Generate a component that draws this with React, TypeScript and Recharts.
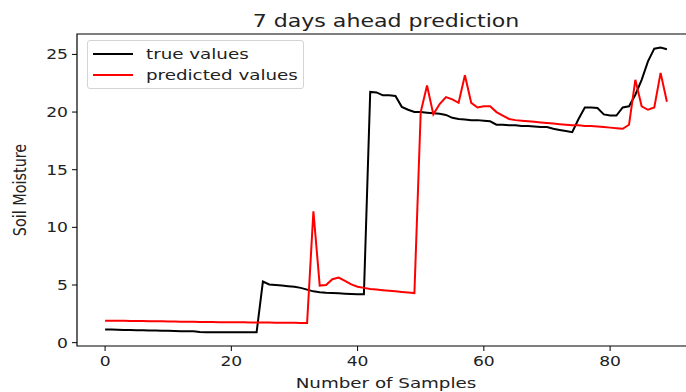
import React from 'react';
import { LineChart, Line, XAxis, YAxis, ReferenceArea } from 'recharts';

// sample index 0..89
const trueValues = [
  1.15, 1.15, 1.12, 1.1, 1.1, 1.08, 1.08, 1.06, 1.05, 1.04,
  1.03, 1.02, 1.0, 1.0, 0.98, 0.92, 0.9, 0.9, 0.9, 0.9,
  0.9, 0.9, 0.9, 0.9, 0.9, 5.3, 5.05, 5.0, 4.95, 4.9,
  4.85, 4.75, 4.6, 4.45, 4.38, 4.33, 4.3, 4.28, 4.25, 4.22,
  4.2, 4.2, 21.75, 21.7, 21.45, 21.45, 21.4, 20.45, 20.2, 20.0,
  20.0, 19.95, 19.9, 19.85, 19.75, 19.5, 19.4, 19.35, 19.3, 19.3,
  19.25, 19.2, 18.9, 18.9, 18.85, 18.85, 18.8, 18.8, 18.75, 18.7,
  18.7, 18.55, 18.45, 18.35, 18.25, 19.4, 20.4, 20.4, 20.35, 19.8,
  19.7, 19.7, 20.4, 20.5, 21.5, 22.8, 24.4, 25.5, 25.6, 25.45,
];

const predictedValues = [
  1.9, 1.9, 1.9, 1.89, 1.88, 1.88, 1.87, 1.86, 1.86, 1.85,
  1.84, 1.83, 1.82, 1.82, 1.81, 1.8, 1.8, 1.79, 1.78, 1.78,
  1.77, 1.76, 1.76, 1.75, 1.75, 1.74, 1.74, 1.73, 1.73, 1.72,
  1.72, 1.71, 1.71, 11.4, 4.95, 5.0, 5.5, 5.65, 5.35, 5.05,
  4.85, 4.75, 4.65, 4.6, 4.55, 4.5, 4.45, 4.4, 4.35, 4.3,
  20.0, 22.3, 19.8, 20.7, 21.3, 21.1, 20.8, 23.2, 20.8, 20.4,
  20.5, 20.5, 20.0, 19.7, 19.4, 19.3, 19.25, 19.2, 19.15, 19.1,
  19.05, 19.0, 18.95, 18.9, 18.85, 18.85, 18.8, 18.8, 18.75, 18.7,
  18.65, 18.6, 18.55, 18.9, 22.8, 20.5, 20.2, 20.4, 23.4, 20.9,
];

const xTicks = [0, 20, 40, 60, 80];
const yTicks = [0, 5, 10, 15, 20, 25];
const seriesNames = ['true values', 'predicted values'];
const seriesColors = ['#000', '#f00'];

const X_DOMAIN = [-4.45, 93.45];
const Y_DOMAIN = [-0.29, 26.77];

// the reference is stretched sideways, so text is too
const SX = 1.27;
const FONT = 'DejaVu Sans, sans-serif';
const INK = '#222';

const StretchText = ({ x, y, size, anchor = 'start', rotate = 0, children }: any) => (
  <text
    transform={`translate(${x},${y}) scale(${SX},1) rotate(${rotate})`}
    textAnchor={anchor}
    fontSize={size}
    fontFamily={FONT}
    fill={INK}
  >
    {children}
  </text>
);

const XTick = (props: any) => (
  <StretchText x={props.x} y={props.y + 13} size={13.5} anchor="middle">
    {props.payload.value}
  </StretchText>
);

const YTick = (props: any) => (
  <StretchText x={props.x} y={props.y + 5} size={13.5} anchor="end">
    {props.payload.value}
  </StretchText>
);

// matplotlib style legend box, upper left
const LegendBox = () => (
  <div
    style={{
      position: 'absolute',
      left: 87,
      top: 40,
      width: 215,
      height: 47,
      border: '1px solid #d4d4d4',
      borderRadius: 3,
      background: 'rgba(255,255,255,0.85)',
    }}
  >
    <svg width={215} height={47} style={{ display: 'block' }}>
      {seriesNames.map((name, k) => (
        <g key={name}>
          <line x1={5} x2={45} y1={13 + k * 21} y2={13 + k * 21} stroke={seriesColors[k]} strokeWidth={2} />
          <StretchText x={58} y={18 + k * 21} size={14.4}>{name}</StretchText>
        </g>
      ))}
    </svg>
  </div>
);

export default function App() {
  const data = trueValues.map((v, i) => ({ i, actual: v, predicted: predictedValues[i] }));

  return (
    <div style={{ position: 'absolute', left: 0, top: 0, width: 686, height: 392, overflow: 'hidden', background: '#fff' }}>
      <LineChart width={700} height={392} data={data} margin={{ top: 34, right: 5, bottom: 0, left: 0 }}>
        <XAxis
          type="number"
          dataKey="i"
          domain={X_DOMAIN}
          ticks={xTicks}
          allowDataOverflow
          axisLine={false}
          tickSize={5}
          tickLine={{ stroke: '#000' }}
          height={46}
          tick={<XTick />}
        />
        <YAxis
          type="number"
          domain={Y_DOMAIN}
          ticks={yTicks}
          allowDataOverflow
          axisLine={false}
          tickSize={5}
          tickMargin={4}
          tickLine={{ stroke: '#000' }}
          width={77}
          tick={<YTick />}
        />
        <ReferenceArea
          x1={X_DOMAIN[0]}
          x2={X_DOMAIN[1]}
          y1={Y_DOMAIN[0]}
          y2={Y_DOMAIN[1]}
          fill="none"
          stroke="#000"
          strokeWidth={1.2}
        />
        <Line type="linear" dataKey="actual" name={seriesNames[0]} stroke={seriesColors[0]} strokeWidth={2} dot={false} isAnimationActive={false} />
        <Line type="linear" dataKey="predicted" name={seriesNames[1]} stroke={seriesColors[1]} strokeWidth={2} dot={false} isAnimationActive={false} />
      </LineChart>
      <LegendBox />
      <svg width={686} height={392} style={{ position: 'absolute', left: 0, top: 0, pointerEvents: 'none' }}>
        <StretchText x={386} y={27} size={17.4} anchor="middle">7 days ahead prediction</StretchText>
        <StretchText x={386} y={388} size={14.4} anchor="middle">Number of Samples</StretchText>
        <StretchText x={26} y={190} size={14.4} anchor="middle" rotate={-90}>Soil Moisture</StretchText>
      </svg>
    </div>
  );
}
